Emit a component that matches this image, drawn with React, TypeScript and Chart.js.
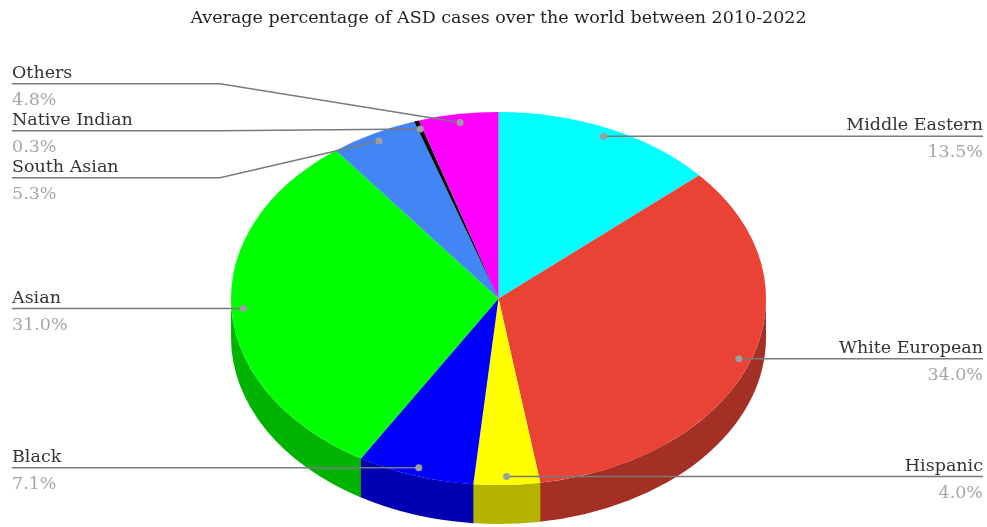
import React, { useEffect, useRef } from 'react';
import { Chart, registerables } from 'chart.js';

Chart.register(...registerables);

const chartTitle = 'Average percentage of ASD cases over the world between 2010-2022';
const categories = ['Middle Eastern', 'White European', 'Hispanic', 'Black', 'Asian', 'South Asian', 'Native Indian', 'Others'];
const shares = [13.5, 34.0, 4.0, 7.1, 31.0, 5.3, 0.3, 4.8];
const sliceColors = ['#00ffff', '#ea4335', '#ffff00', '#0000ff', '#00ff00', '#4285f4', '#000000', '#ff00ff'];

const TILT = 0.6972;
const DEPTH = 39;
const FONT = '"DejaVu Serif", Georgia, serif';

function darken(hex: string, f = 0.7): string {
  const n = parseInt(hex.slice(1), 16);
  const r = Math.round(((n >> 16) & 255) * f);
  const g = Math.round(((n >> 8) & 255) * f);
  const b = Math.round((n & 255) * f);
  return `rgb(${r},${g},${b})`;
}

function spread(items: any[], gap: number) {
  items.sort((a, b) => a.py - b.py);
  let groups = items.map((it) => ({ members: [it], center: it.py }));
  let changed = true;
  const pos = (g: any) => g.center - ((g.members.length - 1) * gap) / 2;
  while (changed) {
    changed = false;
    for (let i = 0; i < groups.length - 1; i++) {
      const a = groups[i];
      const b = groups[i + 1];
      const aEnd = pos(a) + (a.members.length - 1) * gap;
      if (pos(b) - aEnd < gap) {
        const members = a.members.concat(b.members);
        const center = members.reduce((s: number, m: any) => s + m.py, 0) / members.length;
        groups.splice(i, 2, { members, center });
        changed = true;
        break;
      }
    }
  }
  groups.forEach((g) => {
    const start = pos(g);
    g.members.forEach((m: any, k: number) => (m.ly = start + k * gap));
  });
}

const pie3d = {
  id: 'pie3d',
  beforeDatasetsDraw(chart: any) {
    const ctx = chart.ctx;
    const arcs = chart.getDatasetMeta(0).data;
    (chart as any).$pieSaved = false;
    if (!arcs.length) return;
    const { x: cx, y: cy, outerRadius: r } = arcs[0];
    const ry = r * TILT;
    arcs.forEach((a: any, i: number) => {
      const s = Math.max(a.startAngle, 0);
      const e = Math.min(a.endAngle + 0.004, Math.PI);
      if (e <= s) return;
      ctx.beginPath();
      ctx.ellipse(cx, cy, r, ry, 0, s, e);
      ctx.lineTo(cx + r * Math.cos(e), cy + DEPTH + ry * Math.sin(e));
      ctx.ellipse(cx, cy + DEPTH, r, ry, 0, e, s, true);
      ctx.closePath();
      ctx.fillStyle = darken(sliceColors[i]);
      ctx.fill();
    });
    ctx.save();
    ctx.translate(cx, cy);
    ctx.scale(1, TILT);
    ctx.translate(-cx, -cy);
    (chart as any).$pieSaved = true;
  },
  afterDatasetsDraw(chart: any) {
    const ctx = chart.ctx;
    if ((chart as any).$pieSaved) ctx.restore();
    const arcs = chart.getDatasetMeta(0).data;
    if (!arcs.length) return;
    const { x: cx, y: cy, outerRadius: r } = arcs[0];
    const ry = r * TILT;
    const left: any[] = [];
    const right: any[] = [];
    arcs.forEach((a: any, i: number) => {
      const mid = (a.startAngle + a.endAngle) / 2;
      const it = {
        i,
        px: cx + 0.955 * r * Math.cos(mid),
        py: cy + 0.955 * ry * Math.sin(mid),
        ly: 0,
      };
      (Math.cos(mid) >= 0 ? right : left).push(it);
    });
    spread(left, 47);
    spread(right, 47);
    const W = chart.width;
    const draw = (it: any, isRight: boolean) => {
      const edgeX = isRight ? W - 4 : 12;
      const bendX = isRight ? cx + r + 10 : cx - r - 11;
      ctx.save();
      ctx.strokeStyle = '#7a7a7a';
      ctx.lineWidth = 1.5;
      ctx.beginPath();
      ctx.moveTo(edgeX, it.ly);
      ctx.lineTo(bendX, it.ly);
      ctx.lineTo(it.px, it.py);
      ctx.stroke();
      ctx.fillStyle = '#9e9e9e';
      ctx.beginPath();
      ctx.arc(it.px, it.py, 3.5, 0, Math.PI * 2);
      ctx.fill();
      ctx.font = `17.5px ${FONT}`;
      ctx.textAlign = isRight ? 'right' : 'left';
      ctx.textBaseline = 'alphabetic';
      ctx.fillStyle = '#333333';
      ctx.fillText(categories[it.i], edgeX, it.ly - 6);
      ctx.fillStyle = '#a6a6a6';
      ctx.fillText(shares[it.i].toFixed(1) + '%', edgeX, it.ly + 21);
      ctx.restore();
    };
    left.forEach((it) => draw(it, false));
    right.forEach((it) => draw(it, true));
  },
};

export default function App() {
  const ref = useRef<HTMLCanvasElement>(null);
  useEffect(() => {
    document.body.style.margin = '0';
    const chart = new Chart(ref.current!, {
      type: 'pie',
      data: {
        labels: categories,
        datasets: [
          {
            data: shares,
            backgroundColor: sliceColors,
            borderWidth: 0,
            radius: 267.5,
            clip: false,
          } as any,
        ],
      },
      options: {
        responsive: false,
        animation: false,
        events: [],
        layout: { padding: { left: 10 } },
        plugins: {
          legend: { display: false },
          tooltip: { enabled: false },
          title: {
            display: true,
            text: chartTitle,
            color: '#222222',
            font: { family: FONT, size: 17.5, weight: 'normal' },
            padding: { top: 8, bottom: 41 },
          },
        },
      } as any,
      plugins: [pie3d as any],
    });
    return () => chart.destroy();
  }, []);
  return <canvas ref={ref} width={987} height={527} style={{ display: 'block' }} />;
}
